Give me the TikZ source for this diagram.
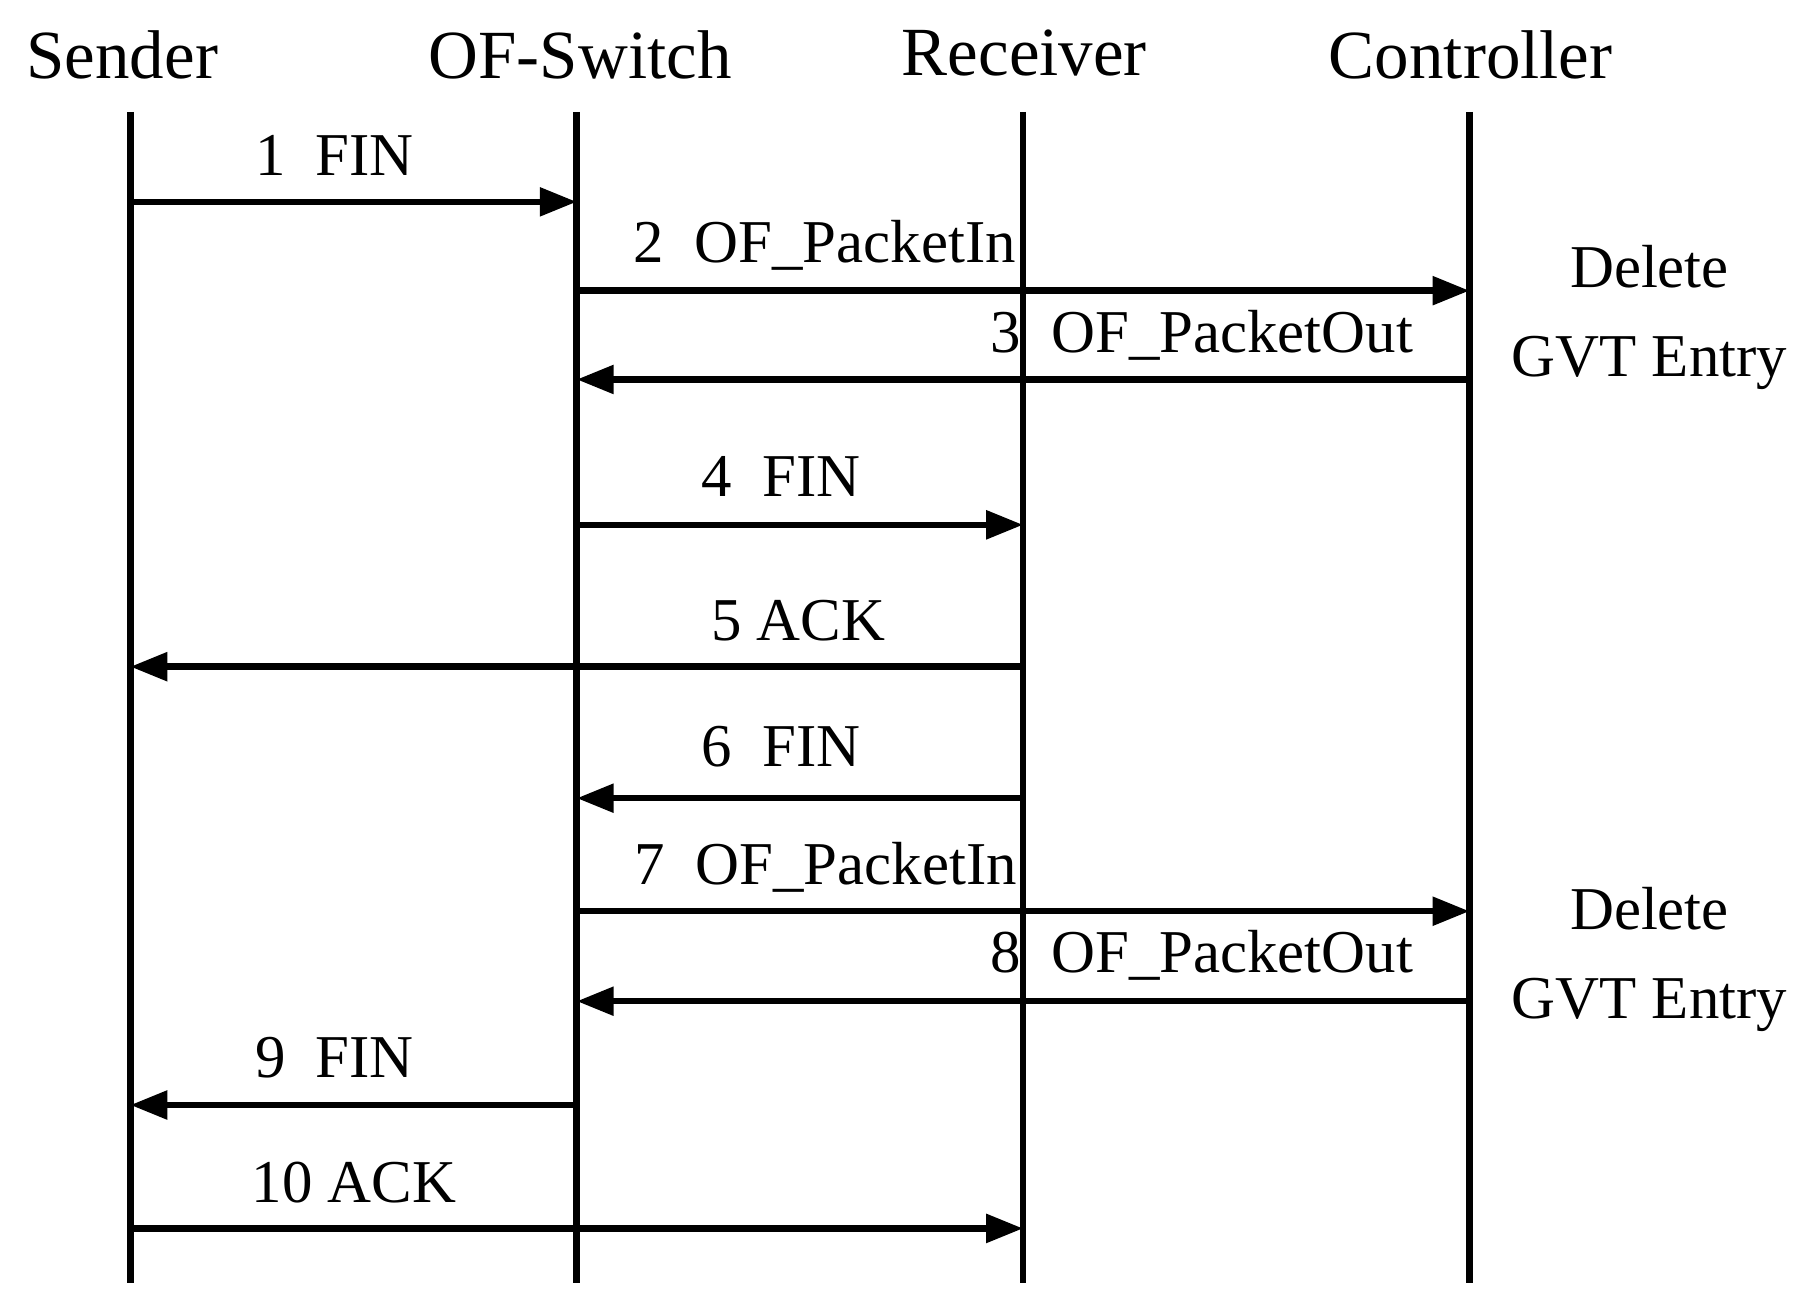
\documentclass[tikz,border=0pt]{standalone}
\usepackage{fontspec}
\setmainfont{Liberation Serif}
\usetikzlibrary{arrows.meta}
\begin{document}
\begin{tikzpicture}[x=0.01cm,y=-0.01cm,
  life/.style={line width=1.6pt},
  msg/.style={line width=1.6pt,-{Triangle[length=0.32cm,width=0.24cm]}},
  head/.style={font=\fontsize{17}{20}\selectfont,inner sep=0pt},
  lbl/.style={font=\fontsize{15}{18}\selectfont,inner sep=0pt}]
\useasboundingbox (0,0) rectangle (1564,1137);
% headers
\node[head] (hS) at (106,48) {Sender};
\node[head] (hW) at (503,48) {OF-Switch};
\node[head] (hR) at (888,46) {Receiver};
\node[head] (hC) at (1275,48) {Controller};
% lifelines
\foreach \n/\x in {S/113,W/500,R/887,C/1274}{
  \coordinate (\n t) at (\x,97);
  \coordinate (\n b) at (\x,1112);
  \draw[life] (\n t) -- (\n b);
}
% message end points
\foreach \i/\y in {1/175,2/252,3/329,4/455,5/578,6/692,7/790,8/868,9/958,10/1065}{
  \foreach \n/\x in {S/113,W/500,R/887,C/1274}{
    \coordinate (\n\i) at (\x,\y);
  }
}
\draw[msg] (S1) -- (W1);
\draw[msg] (W2) -- (C2);
\draw[msg] (C3) -- (W3);
\draw[msg] (W4) -- (R4);
\draw[msg] (R5) -- (S5);
\draw[msg] (R6) -- (W6);
\draw[msg] (W7) -- (C7);
\draw[msg] (C8) -- (W8);
\draw[msg] (W9) -- (S9);
\draw[msg] (S10) -- (R10);
% labels
\node[lbl] (l1) at (290,135) {1\ \ FIN};
\node[lbl] (l2) at (715,213) {2\ \ OF\_PacketIn};
\node[lbl] (l3) at (1042,291) {3\ \ OF\_PacketOut};
\node[lbl] (l4) at (677,413) {4\ \ FIN};
\node[lbl] (l5) at (692,538) {5 ACK};
\node[lbl] (l6) at (677,647) {6\ \ FIN};
\node[lbl] (l7) at (716,752) {7\ \ OF\_PacketIn};
\node[lbl] (l8) at (1042,828) {8\ \ OF\_PacketOut};
\node[lbl] (l9) at (290,917) {9\ \ FIN};
\node[lbl] (l10) at (307,1025) {10 ACK};
\node[lbl,align=center] (d1) at (1430,275) {Delete\\[4pt]GVT Entry};
\node[lbl,align=center] (d2) at (1430,832) {Delete\\[4pt]GVT Entry};
\end{tikzpicture}
\end{document}
